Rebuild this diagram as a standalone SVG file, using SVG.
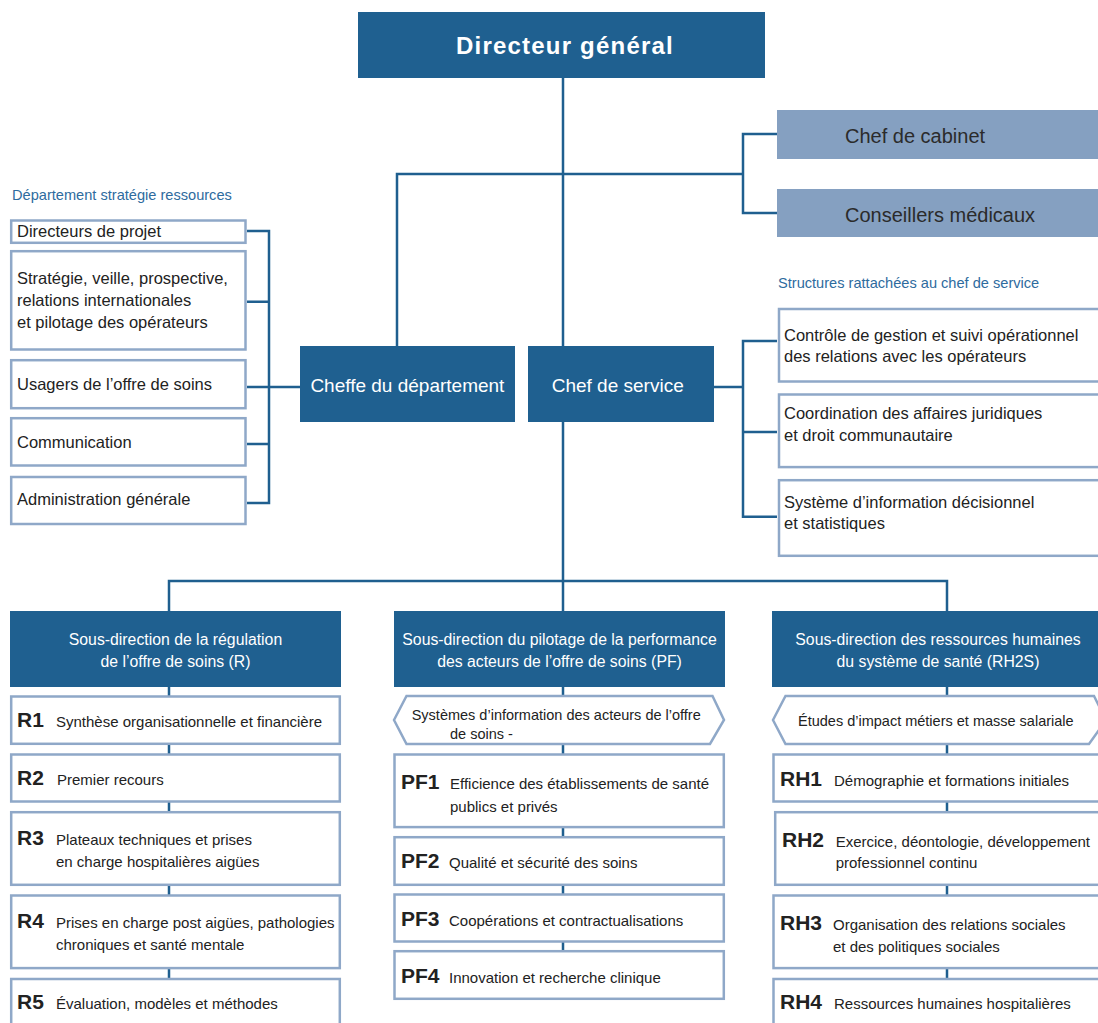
<svg xmlns="http://www.w3.org/2000/svg" width="1098" height="1023" viewBox="0 0 1098 1023">
<style>
.dark{fill:#1f6090}
.lightfill{fill:#85a0c1}
.box{fill:#fff;stroke:#8fa8c8;stroke-width:2.5}
.conn{fill:none;stroke:#1f5f8f;stroke-width:2.5}
text{font-family:"Liberation Sans",Arial,sans-serif}
.dg{font-weight:bold;font-size:24px;fill:#fff;letter-spacing:1.2px}
.wh{fill:#fff;font-size:19px}
.ttl{fill:#2e6b9e;font-size:14.6px}
.bt{fill:#222;font-size:16.5px}
.cab{fill:#2b2b2b;font-size:20px}
.hd{fill:#fff;font-size:15.8px;text-anchor:middle}
.lb{fill:#222;font-size:21px;font-weight:bold}
.it{fill:#222;font-size:15px}
.hx{fill:#222;font-size:14.5px}
.mid{text-anchor:middle}
</style>
<rect width="1098" height="1023" fill="#fff"/>
<g id="connectors">
<path class="conn" d="M563 78 V611"/>
<path class="conn" d="M397 346 V174 H743"/>
<path class="conn" d="M777 134 H743 V213 H777"/>
<path class="conn" d="M247 231 H269 V503 H247 M247 301.7 H269 M247 387 H300 M247 444 H269"/>
<path class="conn" d="M714 387 H743 M777 341 H743 V516.7 H777 M743 432 H777"/>
<path class="conn" d="M169 611 V581 H947 V611"/>
<path class="conn" d="M169 687 V1023 M563 687 V1000 M947 687 V1023"/>
</g>
<g id="dg"><rect class="dark" x="358" y="12" width="407" height="66"/><text class="dg mid" x="565" y="54">Directeur général</text></g>
<g id="cabinet"><rect class="lightfill" x="777" y="110" width="330" height="49"/><text class="cab" x="845" y="143.3">Chef de cabinet</text></g>
<g id="conseillers"><rect class="lightfill" x="777" y="189" width="330" height="48"/><text class="cab" x="845" y="221.7">Conseillers médicaux</text></g>
<g id="cheffe"><rect class="dark" x="300" y="346" width="215" height="76"/><text class="wh mid" x="407.4" y="391.7">Cheffe du département</text></g>
<g id="chefservice"><rect class="dark" x="528" y="346" width="186" height="76"/><text class="wh mid" x="617.7" y="391.7">Chef de service</text></g>
<g id="dsr-title"><text class="ttl" x="12" y="200">Département stratégie ressources</text></g>
<g id="dsr1"><rect class="box" x="11.2" y="220.5" width="234.3" height="22.3"/><text class="bt" x="17" y="237">Directeurs de projet</text></g>
<g id="dsr2"><rect class="box" x="11.2" y="251.2" width="234.3" height="98.3"/><text class="bt" x="17" y="284.3">Stratégie, veille, prospective,</text><text class="bt" x="17" y="306">relations internationales</text><text class="bt" x="17" y="327.7">et pilotage des opérateurs</text></g>
<g id="dsr3"><rect class="box" x="11.2" y="360.2" width="234.3" height="48"/><text class="bt" x="17" y="390">Usagers de l’offre de soins</text></g>
<g id="dsr4"><rect class="box" x="11.2" y="418.2" width="234.3" height="47.3"/><text class="bt" x="17" y="448.3">Communication</text></g>
<g id="dsr5"><rect class="box" x="11.2" y="477" width="234.3" height="47"/><text class="bt" x="17" y="505">Administration générale</text></g>
<g id="str-title"><text class="ttl" x="778" y="288">Structures rattachées au chef de service</text></g>
<g id="str1"><rect class="box" x="779" y="309" width="330" height="72.5"/><text class="bt" x="784" y="341">Contrôle de gestion et suivi opérationnel</text><text class="bt" x="784" y="362.3">des relations avec les opérateurs</text></g>
<g id="str2"><rect class="box" x="779" y="394.5" width="330" height="72.6"/><text class="bt" x="784" y="419">Coordination des affaires juridiques</text><text class="bt" x="784" y="440.7">et droit communautaire</text></g>
<g id="str3"><rect class="box" x="779" y="480.2" width="330" height="75.6"/><text class="bt" x="784" y="507.7">Système d’information décisionnel</text><text class="bt" x="784" y="529">et statistiques</text></g>
<g id="sd-r"><rect class="dark" x="10" y="611" width="331" height="76"/><text class="hd" x="175.5" y="645">Sous-direction de la régulation</text><text class="hd" x="175.5" y="667">de l’offre de soins (R)</text></g>
<g id="sd-pf"><rect class="dark" x="394" y="611" width="331" height="76"/><text class="hd" x="559.5" y="645">Sous-direction du pilotage de la performance</text><text class="hd" x="559.5" y="667">des acteurs de l’offre de soins (PF)</text></g>
<g id="sd-rh"><rect class="dark" x="772" y="611" width="335" height="76"/><text class="hd" x="938" y="645">Sous-direction des ressources humaines</text><text class="hd" x="938" y="667">du système de santé (RH2S)</text></g>
<g id="r1"><rect class="box" x="11.2" y="696.5" width="328.6" height="47.3"/><text class="lb" x="17" y="726.7">R1</text><text class="it" x="56" y="726.7">Synthèse organisationnelle et financière</text></g>
<g id="r2"><rect class="box" x="11.2" y="754.5" width="328.6" height="47"/><text class="lb" x="17" y="785">R2</text><text class="it" x="57" y="785">Premier recours</text></g>
<g id="r3"><rect class="box" x="11.2" y="812.2" width="328.6" height="72.6"/><text class="lb" x="17" y="845">R3</text><text class="it" x="56" y="845">Plateaux techniques et prises</text><text class="it" x="56" y="866.7">en charge hospitalières aigües</text></g>
<g id="r4"><rect class="box" x="11.2" y="895.5" width="328.6" height="72.6"/><text class="lb" x="17" y="928.3">R4</text><text class="it" x="56" y="928.3">Prises en charge post aigües, pathologies</text><text class="it" x="56" y="950">chroniques et santé mentale</text></g>
<g id="r5"><rect class="box" x="11.2" y="979" width="328.6" height="60"/><text class="lb" x="17" y="1009.3">R5</text><text class="it" x="56" y="1009.3">Évaluation, modèles et méthodes</text></g>
<g id="pf-si"><polygon class="box" points="394,720 406.5,696 712.5,696 724,720 710,744 406.5,744"/><text class="hx" x="411.7" y="720">Systèmes d’information des acteurs de l’offre</text><text class="hx" x="450" y="739.3">de soins -</text></g>
<g id="pf1"><rect class="box" x="394.5" y="754.5" width="329.3" height="72.6"/><text class="lb" x="401" y="789.3">PF1</text><text class="it" x="450" y="789.3">Efficience des établissements de santé</text><text class="it" x="450" y="811.7">publics et privés</text></g>
<g id="pf2"><rect class="box" x="394.5" y="837.2" width="329.3" height="47.6"/><text class="lb" x="401" y="868.3">PF2</text><text class="it" x="449" y="868.3">Qualité et sécurité des soins</text></g>
<g id="pf3"><rect class="box" x="394.5" y="894.5" width="329.3" height="47"/><text class="lb" x="401" y="925.7">PF3</text><text class="it" x="449" y="925.7">Coopérations et contractualisations</text></g>
<g id="pf4"><rect class="box" x="394.5" y="951.2" width="329.3" height="47.6"/><text class="lb" x="401" y="982.7">PF4</text><text class="it" x="449" y="982.7">Innovation et recherche clinique</text></g>
<g id="rh-et"><polygon class="box" points="773,720 785.5,696 1094,696 1106,720 1089,744 785.5,744"/><text class="hx" x="798" y="725.5">Études d’impact métiers et masse salariale</text></g>
<g id="rh1"><rect class="box" x="773.5" y="754.5" width="340" height="47"/><text class="lb" x="780" y="786">RH1</text><text class="it" x="834" y="786">Démographie et formations initiales</text></g>
<g id="rh2"><rect class="box" x="775.2" y="812.2" width="340" height="72.6"/><text class="lb" x="782" y="846.7">RH2</text><text class="it" x="835.7" y="846.7">Exercice, déontologie, développement</text><text class="it" x="835.7" y="868.3">professionnel continu</text></g>
<g id="rh3"><rect class="box" x="773.5" y="895.5" width="340" height="72.6"/><text class="lb" x="780" y="930">RH3</text><text class="it" x="833" y="930">Organisation des relations sociales</text><text class="it" x="833" y="951.7">et des politiques sociales</text></g>
<g id="rh4"><rect class="box" x="773.5" y="979" width="340" height="60"/><text class="lb" x="780" y="1009.3">RH4</text><text class="it" x="834" y="1009.3">Ressources humaines hospitalières</text></g>
</svg>
